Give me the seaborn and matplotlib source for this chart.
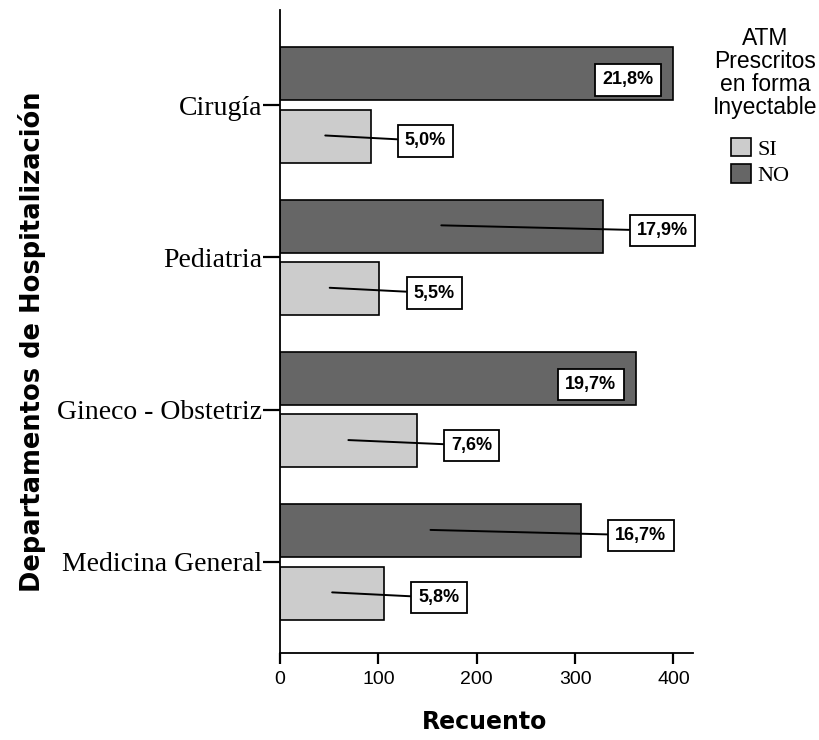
import matplotlib
matplotlib.use("Agg")
import matplotlib.pyplot as plt
from matplotlib.patches import Patch
import pandas as pd
import seaborn as sns

# Hospital departments (top to bottom) and counts of prescriptions per group
departamentos = ["Cirugía", "Pediatria", "Gineco - Obstetriz", "Medicina General"]
grupos = ["NO", "SI"]
recuento_no = [400, 328, 362, 306]
recuento_si = [92, 101, 139, 106]
x_ticks = [0, 100, 200, 300, 400]
titulo_leyenda = "ATM\nPrescritos\nen forma\nInyectable"

colores = {"NO": "#666666", "SI": "#cccccc"}
serif = "Liberation Serif"
sans = "Liberation Sans"

sns.set_theme(style="white")
plt.rcParams["font.family"] = [sans, "DejaVu Sans"]
plt.rcParams.update({
    "text.color": "black",
    "axes.labelcolor": "black",
    "xtick.color": "black",
    "ytick.color": "black",
})

df = pd.DataFrame({
    "Departamento": departamentos * 2,
    "ATM": ["NO"] * len(departamentos) + ["SI"] * len(departamentos),
    "Recuento": recuento_no + recuento_si,
})
total = df["Recuento"].sum()

fig = plt.figure(figsize=(8.2, 7.4), dpi=100)
ax = fig.add_axes([0.3415, 0.1176, 0.5037, 0.8689])

sns.barplot(
    data=df, x="Recuento", y="Departamento", hue="ATM",
    order=departamentos, hue_order=grupos, palette=colores,
    width=0.82, gap=0.15, saturation=1, edgecolor="black", linewidth=1.2,
    orient="h", legend=False, ax=ax,
)

ax.set_xlim(0, 420)
ax.set_ylim(3.598, -0.624)
ax.set_xticks(x_ticks)
sns.despine(ax=ax, top=True, right=True)
for s in ("left", "bottom"):
    ax.spines[s].set_linewidth(1.3)
    ax.spines[s].set_color("black")

ax.tick_params(axis="y", length=12, width=1.6, pad=1, labelsize=20)
ax.tick_params(axis="x", length=8, width=1.6, pad=5, labelsize=14)
ax.tick_params(left=True, bottom=True)
for t in ax.get_yticklabels():
    t.set_fontfamily(serif)

ax.set_xlabel("Recuento", fontsize=17, fontweight="bold", family="DejaVu Sans")
ax.set_ylabel("Departamentos de Hospitalización", fontsize=18.5, fontweight="bold",
              family="DejaVu Sans")
ax.xaxis.set_label_coords(0.496, -0.088)
ax.yaxis.set_label_coords(-0.566, 0.484)

# Percentage labels in boxes, with leader lines for bars that leave room
caja = dict(boxstyle="square,pad=0.4", fc="white", ec="black", lw=1.3)
for p in ax.patches:
    v = p.get_width()
    if v <= 0:
        continue
    yc = p.get_y() + p.get_height() / 2
    etiqueta = f"{v / total * 100:.1f}%".replace(".", ",")
    if v > 340:
        ax.text(v - 20, yc + 0.04, etiqueta, ha="right", va="center",
                fontsize=13, fontweight="bold", bbox=caja, zorder=4)
    else:
        ax.annotate(etiqueta, xy=(v / 2, yc - 0.005), xytext=(v + 35, yc + 0.03),
                    ha="left", va="center", fontsize=13, fontweight="bold",
                    bbox=caja, zorder=4,
                    arrowprops=dict(arrowstyle="-", lw=1.4, color="black",
                                    shrinkA=0, shrinkB=0))

# Legend: centred multi-line title, then the two swatches
fig.text(765 / 820, 1 - 27 / 740, titulo_leyenda, ha="center", va="top",
         fontsize=16.5, family=sans, linespacing=1.0, multialignment="center")
handles = [Patch(facecolor=colores[g], edgecolor="black", linewidth=1.2, label=g)
           for g in ["SI", "NO"]]
ax.legend(
    handles=handles, loc="upper left",
    bbox_to_anchor=(731 / 820, 1 - 138 / 740), bbox_transform=fig.transFigure,
    frameon=False, prop={"family": serif, "size": 16},
    handlelength=0.9, handleheight=0.9, handletextpad=0.3, labelspacing=0.2,
    borderpad=0, borderaxespad=0,
)

fig.savefig("out.png", dpi=100, facecolor="white")
